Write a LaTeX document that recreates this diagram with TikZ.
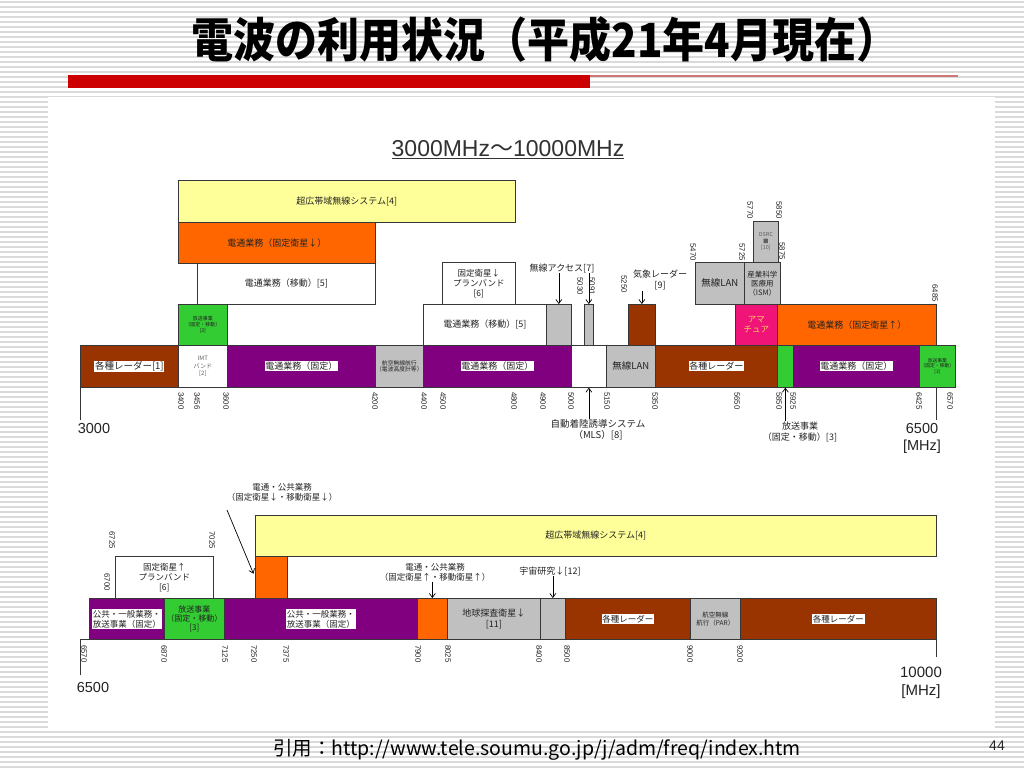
\documentclass[tikz,border=0pt]{standalone}
\usepackage{fontspec}
\setmainfont{Liberation Sans}
\newfontfamily\jp{Noto Sans CJK JP}
\usetikzlibrary{arrows.meta}
\setlength\fboxsep{0.8pt}
\newcommand\fsz[1]{\fontsize{#1}{\fpeval{1.18*#1}}\selectfont}
\newcommand\wb[1]{\colorbox{white}{#1}}
\definecolor{brn}{RGB}{153,51,0}
\definecolor{pur}{RGB}{128,0,128}
\definecolor{org}{RGB}{255,102,0}
\definecolor{grn}{RGB}{51,204,51}
\definecolor{gry}{RGB}{192,192,192}
\definecolor{ylw}{RGB}{255,255,153}
\definecolor{pnk}{RGB}{240,20,120}
\definecolor{edge}{RGB}{55,55,55}
\definecolor{txt}{RGB}{35,35,35}
\definecolor{ltxt}{RGB}{95,95,95}
\definecolor{amatxt}{RGB}{255,205,90}
\definecolor{stripe}{RGB}{218,218,218}
\definecolor{ttlred}{RGB}{204,0,0}
\definecolor{ttlline}{RGB}{205,120,120}
\definecolor{subc}{RGB}{50,50,50}
\newcommand\bx[9][]{\node[bandbox, fill=#7, minimum width={(#5-#3)*1pt}, minimum height={(#6-#4)*1pt}, anchor=north west, font=\jp\fsz{#8}, #1] (#2) at (#3,#4) {#9};}
\begin{document}
\begin{tikzpicture}[x=1pt,y=-1pt,
  bandbox/.style={draw=edge, line width=0.7pt, inner sep=0pt, align=center, text=txt},
  lbl/.style={font=\jp\fsz{#1}, text=txt, align=center, inner sep=0.5pt},
  tkb/.style={font=\fontsize{7.8}{8}\selectfont, text=txt, rotate=-90, anchor=west, inner sep=0pt},
  tka/.style={font=\fontsize{7.8}{8}\selectfont, text=txt, rotate=-90, anchor=east, inner sep=0pt},
  num/.style={font=\fontsize{14.5}{17}\selectfont, text=txt, align=center, inner sep=0pt},
  arr/.style={-{Straight Barb[length=4pt,width=6pt]}, line width=0.7pt, black},
  tick/.style={line width=0.8pt, edge}]
\useasboundingbox (0,0) rectangle (1024,768);
\fill[white] (0,0) rectangle (1024,768);
\foreach \i in {0,...,153} \draw[stripe, line width=1.4pt] (0,\i*5+2) -- (1024,\i*5+2);
\fill[white] (48,97) rectangle (995,730);
% title
\node[font=\jp\bfseries\fontsize{42}{48}\selectfont, inner sep=0pt] (title) at (545,40) {\scalebox{1}[1.12]{電波の利用状況（平成21年4月現在）}};
\fill[ttlred] (68,75) rectangle (590,88);
\draw[ttlline, line width=1.5pt] (590,76) -- (958,76);
\node[font=\fontsize{23}{26}\selectfont, text=subc] (sub) at (508,150) {\underline{3000MHz{\jp ～}10000MHz}};

% ===== top chart =====
\bx{ruwb}{178}{180}{515}{222}{ylw}{9}{超広帯域無線システム[4]}
\bx{fsatd}{178}{222}{375}{263}{org}{9}{電通業務（固定衛星↓）}
\bx{mobA}{197}{263}{375}{304}{white}{9}{電通業務（移動）[5]}
\bx{hbA}{178}{304}{227}{345}{grn}{5}{放送事業\\（固定・移動）\\{[3]}}
\bx{radA}{80}{345}{178}{387}{brn}{9.5}{\wb{各種レーダー[1]}}
\bx[text=ltxt]{imt}{178}{345}{227}{387}{white}{6}{IMT\\バンド\\{[2]}}
\bx{fixA}{227}{345}{375}{387}{pur}{9}{\wb{電通業務（固定）}}
\bx{aero}{375}{345}{423}{387}{gry}{5.8}{航空無線航行\\（電波高度計等）}
\bx{fixB}{423}{345}{571}{387}{pur}{9}{\wb{電通業務（固定）}}
\bx{mls}{571}{345}{606}{387}{white}{9}{}
\bx{wlanA}{606}{345}{655}{387}{gry}{9.5}{無線LAN}
\bx{radB}{655}{345}{777}{387}{brn}{9}{\wb{各種レーダー}}
\bx{grnB}{777}{345}{793}{387}{grn}{9}{}
\bx{fixC}{793}{345}{919}{387}{pur}{9}{\wb{電通業務（固定）}}
\bx{hbB}{919}{345}{955}{387}{grn}{4.8}{放送事業\\（固定・移動）\\{[3]}}
\bx{mobB}{423}{304}{546}{345}{white}{9}{電通業務（移動）[5]}
\bx{accA}{546}{304}{571}{345}{gry}{9}{}
\bx{accB}{584}{304}{593}{345}{gry}{9}{}
\bx{met}{628}{304}{655}{345}{brn}{9}{}
\bx[text=amatxt]{ama}{735}{304}{777}{345}{pnk}{8.5}{アマ\\チュア}
\bx{fsatu}{777}{304}{936}{345}{org}{9}{電通業務（固定衛星↑）}
\bx{plan}{442}{262}{515}{304}{white}{8.5}{固定衛星↓\\プランバンド\\{[6]}}
\bx{wlanB}{695}{262}{744}{304}{gry}{9.5}{無線LAN}
\bx{ism}{744}{262}{780}{304}{gry}{7.5}{産業科学\\医療用\\（ISM）}
\bx[text=ltxt]{dsrc}{753}{221}{778}{262}{gry}{5.5}{DSRC\\■\\{[10]}}

\foreach \v/\x in {3400/181,3456/197,3600/226,4200/375,4400/424,4500/443,4800/514,4900/543,5000/571,5150/607,5350/655,5650/737,5850/779,5925/793,6425/919,6570/950}
  \node[tkb] (tb\v) at (\x,392) {\v};
\foreach \v/\x/\y in {5030/580/295,5091/592/295,5250/624/293,5470/693/261,5725/742/261,5770/750/219,5850/779/219,5875/782/260,6485/935/302}
  \node[tka] (ta\v) at (\x,\y) {\v};

\node[lbl=9] (t7) at (562,268) {無線アクセス[7]};
\node[lbl=9] (t9) at (660,280) {気象レーダー\\{[9]}};
\node[lbl=9.5] (t8) at (598,430) {自動着陸誘導システム\\（MLS）[8]};
\node[lbl=9] (t3) at (800,432) {放送事業\\（固定・移動）[3]};
\draw[arr] (t7.south -| accA.north) -- (accA.north);
\draw[arr] (t7.south -| accB.north) -- (accB.north);
\draw[arr] (t9.south -| met.north) -- (met.north);
\draw[arr] (t8.north -| mls.south) -- (mls.south);
\draw[arr] (t3.north -| grnB.south) -- (grnB.south);

\coordinate (zA) at (80,420);
\coordinate (zB) at (936,420);
\draw[tick] (radA.south west) -- (zA);
\draw[tick] (zB |- hbB.south) -- (zB);
\node[num] (n3000) at (94,429) {3000};
\node[num] (n6500) at (922,438) {6500\\{[MHz]}};

% ===== bottom chart =====
\bx{ruwbB}{255}{515}{936}{556}{ylw}{9}{超広帯域無線システム[4]}
\bx{planB}{115}{556}{213}{598}{white}{8.5}{固定衛星↑\\プランバンド\\{[6]}}
\bx{orB}{255}{556}{287}{598}{org}{9}{}
\bx[align=left]{pbA}{89}{598}{164}{639}{pur}{8.5}{\wb{公共・一般業務・}\\\wb{放送事業（固定）}}
\bx{hbC}{164}{598}{224}{639}{grn}{8}{放送事業\\（固定・移動）\\{[3]}}
\bx[align=left]{pbB}{224}{598}{417}{639}{pur}{8.5}{\wb{公共・一般業務・}\\\wb{放送事業（固定）}}
\bx{orA}{417}{598}{447}{639}{org}{9}{}
\bx{eess}{447}{598}{540}{639}{gry}{9}{地球探査衛星↓\\{[11]}}
\bx{sr}{540}{598}{565}{639}{gry}{9}{}
\bx{radC}{565}{598}{690}{639}{brn}{8.5}{\wb{各種レーダー}}
\bx{par}{690}{598}{740}{639}{gry}{6.5}{航空無線\\航行（PAR）}
\bx{radD}{740}{598}{936}{639}{brn}{8.5}{\wb{各種レーダー}}

\foreach \v/\x in {6570/84,6870/164,7125/225,7250/254,7375/286,7900/418,8025/448,8400/539,8500/567,9000/690,9200/740}
  \node[tkb] (bb\v) at (\x,645) {\v};
\foreach \v/\x/\y in {6725/112/549,7025/212/549,6700/107/591}
  \node[tka] (ba\v) at (\x,\y) {\v};

\node[lbl=8.5] (tdn) at (282,492) {電通・公共業務\\（固定衛星↓・移動衛星↓）};
\node[lbl=8.5] (tup) at (435,572) {電通・公共業務\\（固定衛星↑・移動衛星↑）};
\node[lbl=9] (t12) at (550,571) {宇宙研究↓[12]};
\coordinate (adn) at (227,510);
\draw[arr, shorten >=4pt] (adn) -- (orB.west);
\draw[arr] (tup.south -| orA.north) -- (orA.north);
\draw[arr] (t12.south -| sr.north) -- (sr.north);

\coordinate (zC) at (80,675);
\coordinate (zD) at (936,657);
\draw[tick] (zC) -- (zC |- pbA.south west) -- (pbA.south west);
\draw[tick] (zD |- radD.south) -- (zD);
\node[num] (n6500b) at (93,687) {6500};
\node[num, font=\fontsize{15}{18}\selectfont] (n10000) at (921,683) {10000\\{[MHz]}};

% footer
\node[font=\jp\fontsize{19.5}{22}\selectfont, text=black, inner sep=0pt] (cite) at (537,750) {引用：http://www.tele.soumu.go.jp/j/adm/freq/index.htm};
\node[font=\fontsize{14}{16}\selectfont, text=txt, inner sep=0pt] (pg) at (997,746) {44};
\end{tikzpicture}
\end{document}
